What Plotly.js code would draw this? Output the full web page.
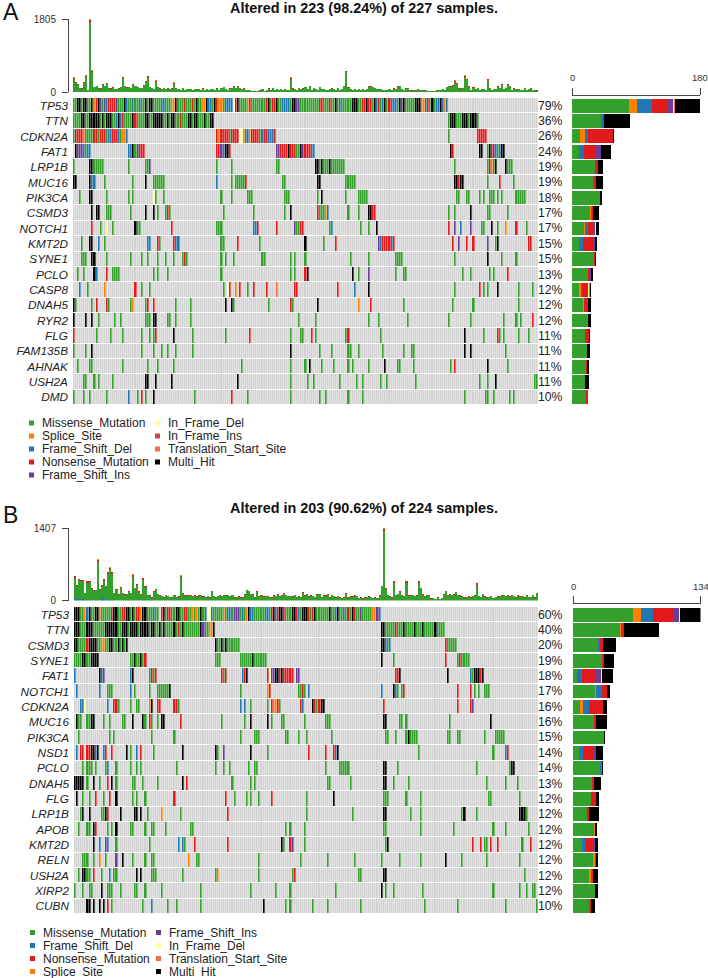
<!DOCTYPE html>
<html><head><meta charset="utf-8">
<script src="https://cdn.plot.ly/plotly-3.0.1.min.js"></script>
<style>html,body{margin:0;padding:0;background:#fff}#c{width:708px;height:978px}</style>
</head><body><div id="c"></div>
<script>
// ---------- shared ----------
const typeCodes = ['M','S','D','N','I','Y','Q','T','H'];
const typeNames = {M:'Missense_Mutation',S:'Splice_Site',D:'Frame_Shift_Del',N:'Nonsense_Mutation',I:'Frame_Shift_Ins',Y:'In_Frame_Del',Q:'In_Frame_Ins',T:'Translation_Start_Site',H:'Multi_Hit'};
const typeColors = {M:'#33A02C',S:'#FF7F00',D:'#1F78B4',N:'#E31A1C',I:'#6A3D9A',Y:'#FFFF99',Q:'#D53E4F',T:'#F46D43',H:'#000000'};

// ---------- panel A ----------
const aTitle = 'Altered in 223 (98.24%) of 227 samples.';
const aGenes = ['TP53','TTN','CDKN2A','FAT1','LRP1B','MUC16','PIK3CA','CSMD3','NOTCH1','KMT2D','SYNE1','PCLO','CASP8','DNAH5','RYR2','FLG','FAM135B','AHNAK','USH2A','DMD'];
const aPct = [79,36,26,24,19,19,18,17,17,15,15,13,12,12,12,11,11,11,11,10];
const aTotals = [360,250,200,110,90,250,410,60,1805,540,130,160,110,90,190,150,230,110,90,120,80,70,90,130,380,150,120,130,100,190,150,130,110,100,180,270,400,130,100,70,290,120,90,80,110,70,90,80,90,240,110,80,60,100,60,80,70,70,60,80,70,70,60,90,60,70,50,80,70,60,90,60,110,130,80,60,90,100,150,100,160,110,70,90,60,50,60,30,20,30,30,40,70,30,60,90,40,100,60,70,60,70,60,80,60,60,360,90,70,60,100,70,90,130,70,160,60,110,70,60,130,80,70,60,50,70,90,70,60,110,60,70,160,530,120,70,60,70,50,70,60,70,60,70,140,150,130,110,70,80,70,60,50,60,70,60,90,70,150,160,80,50,90,100,50,40,60,40,70,50,50,40,50,20,20,20,30,40,60,50,70,50,130,160,150,170,290,230,110,90,110,410,330,150,60,120,80,100,60,70,80,60,320,110,60,70,80,150,100,210,70,100,190,160,60,90,70,80,60,50,110,60,70,90,60,50,40];
const aNonsense = [25,15,15,10,8,15,30,5,60,35,10,12,10,8,14,12,18,10,8,10,8,7,8,12,30,12,10,12,10,16,12,10,10,8,15,20,32,10,8,7,25,10,8,8,10,7,8,8,8,22,10,8,6,10,6,8,7,7,6,8,7,7,6,8,6,7,5,8,7,6,8,6,10,12,8,6,8,10,14,10,14,10,7,8,6,5,6,4,3,4,4,4,7,4,6,8,4,10,6,7,6,7,6,8,6,6,30,8,7,6,10,7,8,12,7,14,6,10,7,6,12,8,7,6,5,7,8,7,6,10,6,7,14,30,10,7,6,7,5,7,6,7,6,7,12,14,12,10,7,8,7,6,5,6,7,6,8,7,14,14,8,5,8,10,5,4,6,4,7,5,5,4,5,3,3,3,4,4,6,5,7,5,12,14,14,15,25,20,10,8,10,30,28,14,6,10,8,10,6,7,8,6,28,10,6,7,8,14,10,18,7,10,16,14,6,8,7,8,6,5,10,6,7,8,6,5,4];
const aSpliceTips = [[0,10],[6,10],[8,30],[9,15],[24,12],[36,15],[40,10],[49,8],[106,12],[133,15],[186,8],[191,12],[192,10],[202,8],[209,8]];
const aShiftBase = [[0,15],[1,12],[2,10],[5,10],[6,12],[36,30],[37,25],[40,15]];
const aBarMissense = [80,41,11,10,33,30,39,26,17,10,31,22,10,15,22,18,21,19,18,19];
const aBarSplice   = [11,0,7,0,0,0,0,1,1,0,0,0,2,2,0,0,0,0,0,0];
const aBarDel      = [21.5,2,4,7,0,1,0,1,4,5,0,1,2,0,0,0,0,0,0,0];
const aBarNonsense = [22.5,2,35,16,3,3,0,2,8,15,1,3,9,5,1,6,0,2,0,3];
const aBarIns      = [7.5,0,0,8,0,0,0,0,3,2,0,1,0,0,0,0,0,0,0,0];
const aBarInDel    = [1.5,0,0,0,0,0,1,0,1,0,0,0,1,0,0,0,0,0,0,0];
const aBarStart    = [1.5,0,1,0,0,0,0,0,0,0,0,0,1,0,0,0,0,0,0,0];
const aBarMulti    = [34,36,1,14,7,9,2,8,4,3,2,3,2,5,4,2,4,3,6,1];
const aRows = {
 TP53:'M0-1 H2-3 M4 H5-6 M7-8 H9 S10 N11 H12 I13 M14 I15 D16 N17-20 I21 M22-24 H25 D26 M27-28 D29 M30-31 D32 M33-34 H35 M36 H37-38 M39-42 D43-44 M45-47 S48-49 H50 M51-53 N54 M55-57 N58 M59 H60 M61-62 S63-64 H65 D66-67 M68 H69 N70 S71-72 M73 D74-77 Y78 N79 H80 M81-84 S85 N86 M87-93 N94 H95 M96 N97-98 H99 M100-101 D102-105 M106 H107-108 I109-110 M111-119 N120-121 M122-124 N125 M126-127 H128 M129 D130 M131-135 H136-138 M139-140 N141-142 H143 N144-145 M146 H147 D148 N149 M150 D151 H152 M153 N154 D155-157 M158 H159 I160 H161 M162-166 H167-169 S170-171 D172 N173 M174 H175 M176 D177-178 H179 D180 S181 D182',
 TTN:'M0-3 H4-5 M6-7 H8-12 M13 H14 M15 H16-18 M19-20 D21 H22 D23 N24 M25-28 H29 N30 M31-34 H35-36 M37-38 H39-43 M44-45 H46 M47 H48-49 M50-51 N52 M53-55 H56-57 M58 H59-60 M61-63 H64 M65-66 H67-68 M183 H184-186 M187-189 H190-192 M193 H194-196 M197',
 CDKN2A:'M0 N1-4 S5 M6-9 N10-11 M12 N13-15 M16 D17-18 N19-21 D22 M23 S24-25 D26 N70 S71 N72-75 M76 N77-80 Y81-82 S83 D84-85 S86 N87-90 M91 D92 N93-94 D95-97 N98 M183 N197-201',
 FAT1:'H1 I2-4 D5 M6 D7-8 D27-28 H29 M30 I31 N32-34 N70-71 I72 D73 H74-75 N76 I99-100 N101-104 H105 N106-108 M109-110 H111 I112 N113-115 D116-117 H184 N185 H198-199 M202 H203 N204 I205 D206 M207 D208 H209-210',
 LRP1B:'M0 H8-9 M10-14 M27 M35-36 I37 M70 M77 M99-100 H118-119 M120 H121 M122-125 H125 M126-132 M186 M202 N203 S204 M205 H206 H211 M212-214',
 MUC16:'H0-1 H8 D9-10 M15 M29 H35 M39-44 D70 M77 M79-83 N84 M102-103 H119-120 M133-137 H186-187 N188 H189-190 M202 N208 M215',
 PIK3CA:'M3 H8-9 M16 M27 M29 Y39 M40 M44 M72 M77 M85-87 M103-105 M119 H121 M133 M139-143 M187-188 M192-193 M198 M200 M203-205 M207 M209 M216-220',
 CSMD3:'H9 H11-12 M16-18 M28 H35 H39 M41 M45 N46 M47 M73 M88 M103 H106 N119 M120-122 S123 D124 M134 M139 H144-145 N146-147 M183 M186 H194 M202-203 M212',
 NOTCH1:'N9 M13 Y16 M19 H30 M31-32 N48 M70-72 D88-89 N90 N99 I108 M109-110 N111-112 M125 D126 M140 M144 H148 N183 I186 D189 I194 M199-200 H204 M207 S211 N216 M221',
 KMT2D:'M4 H8-9 D12 M15 D36-37 N41 M42 N49 D50-51 M72-73 N80 M91 H113 M122 N128 I149 D150 N151-154 D155 N156 N185 I188 N192 N195 I202 M206 H207 N222-223',
 SYNE1:'M4-6 H9-10 M16 M28 M33 M36 M41 M45 M49 M53-54 N54 M55 M72 M74 M78 M92-93 M106 M108 M113 M135 M144 M157-160 M186 H202 M209 M216',
 PCLO:'M2 M5 H10 D11 N16 M19-22 M39 M41 M46 M72 M106 M108 N113 H114 H136 M139 I144 M157 M161-162 M190 M194 M203 M205 N212',
 CASP8:'D3 M7 S15 N30 M33 M37 M73 Y75 N76 S79 N81 M85 N88 N94 T99 N108-109 N129 D137 H144 M186 N198 M200 M202 H207 M217 M224',
 DNAH5:'H0 M1 M9 N11 N16 M17 M28 S29 M35 N36 N39 M50 M57 H74 H77 M78 M95 N106 M107 H119 S139 N145 M161 M185 M195 M217',
 RYR2:'H0 H6 H9 M12 M20 M23 M35-37 H39-40 M46-47 M50 M57 M110 M118 M144 M149 M163 M183 M194 M210 M216 M218 N224',
 FLG:'N0 M11 M18 M24 M33 M37 M39 N40 H49 M58 M74 N86 M106 M111 M112 N116 M118 M133 N134 M150 H191 M200 N207 M208 M210 M217 M222',
 FAM135B:'M0 M6 H9 M33 M39 M43 M46 M50 M58 H106 M120 M126 M134-135 M139 M151 M161 M165-166 H191 H194 M211',
 AHNAK:'M2 M8-9 M24 M36 M41 M49 M82 M106 M113 H115 M121 M127 M134 M136 M144 H152 M158-159 M166 M184 N186 H202 M212',
 USH2A:'M5-6 M10 M12 M19 H35-36 H40 H48 H80 M106 M114 M117 M130 M138 M141 M150 M153 M167 M198 M202 H206 M225-226',
 DMD:'M0 M5 M8 M16 D27 M31 N33 M35 H39 M59 N77 M85 M106 M120 M123 M134 M141 M191 M201-202 M205 M213 M215'
};

// ---------- panel B ----------
const bTitle = 'Altered in 203 (90.62%) of 224 samples.';
const bGenes = ['TP53','TTN','CSMD3','SYNE1','FAT1','NOTCH1','CDKN2A','MUC16','PIK3CA','NSD1','PCLO','DNAH5','FLG','LRP1B','APOB','KMT2D','RELN','USH2A','XIRP2','CUBN'];
const bPct = [60,40,20,19,18,17,16,16,15,14,14,13,12,12,12,12,12,12,12,10];
const bTotals = [475,300,410,400,390,150,370,380,240,200,210,807,220,300,410,290,550,650,550,150,220,120,260,150,120,130,180,150,510,250,330,180,120,430,280,110,100,60,180,230,130,100,90,60,110,90,70,60,110,70,80,490,150,100,100,100,110,90,100,80,100,110,80,70,90,60,190,90,70,90,100,90,110,100,110,90,110,60,70,80,60,60,120,210,190,130,120,70,180,90,100,80,90,80,70,60,100,90,120,90,100,140,110,90,90,80,110,70,80,70,160,100,130,80,100,90,70,120,130,70,100,100,130,60,110,90,60,90,60,50,60,140,60,80,80,100,90,50,60,40,60,70,80,70,50,60,50,100,290,1407,240,110,80,60,380,110,130,180,100,90,380,100,100,110,90,100,380,250,120,90,100,110,40,50,30,60,30,50,120,190,100,130,110,120,170,110,100,80,60,70,80,60,90,100,340,90,70,130,80,60,70,90,50,70,80,90,100,110,90,100,80,110,90,60,100,80,90,60,110,70,70,110,60,150];
const bNonsense = [30,15,20,20,20,10,22,25,14,12,12,40,14,16,22,16,30,35,28,10,14,8,16,10,8,8,12,10,35,14,20,12,8,28,18,8,7,5,12,14,10,7,7,5,8,7,6,5,8,6,6,30,10,8,8,8,8,7,8,6,8,8,6,6,7,5,14,7,6,7,8,7,8,8,8,7,8,5,6,6,5,5,9,15,14,10,9,6,14,7,8,6,7,6,6,5,8,7,9,7,8,10,8,7,7,6,8,6,6,6,12,8,10,6,8,7,6,9,10,6,8,8,10,5,8,7,5,7,5,4,5,10,5,6,6,8,7,4,5,3,5,6,6,6,4,5,4,8,18,45,16,8,6,5,25,8,10,14,8,7,25,8,8,8,7,8,25,16,9,7,8,8,3,4,3,5,3,4,9,14,8,10,8,9,12,8,8,6,5,6,6,5,7,8,22,7,6,10,6,5,6,7,4,6,6,7,8,8,7,8,6,8,7,5,8,6,7,5,8,6,6,8,5,12];
const bSpliceTips = [[0,8],[11,15],[17,10],[28,10],[51,12],[149,18],[154,8],[160,8],[166,8],[194,8]];
const bShiftBase = [[0,25],[1,25],[2,22],[3,20],[4,20],[5,15],[6,15],[7,15],[13,60],[14,20],[16,15],[17,15],[28,12],[33,12]];
const bBarMissense = [63,49,26,30,4,23,7,22,33,6,28,20,19,15,22,9,21,17,23,17];
const bBarDel      = [13,0,2,0,5,6,7,0,0,5,2,0,0,0,0,4,0,1,0,1];
const bBarNonsense = [22,4,3,3,15,6,14,2,0,11,0,2,5,2,0,8,1,1,0,1];
const bBarSplice   = [8,1,0,0,0,1,3,0,0,0,0,0,0,0,1,0,2,2,0,0];
const bBarIns      = [5,0,0,0,5,0,0,0,0,2,0,0,0,0,0,2,0,0,0,0];
const bBarInDel    = [1,0,0,0,1,0,1,0,0,0,0,0,0,0,0,0,0,0,0,0];
const bBarStart    = [0,0,0,0,0,0,0,0,0,0,0,0,0,0,0,0,0,0,0,0];
const bBarMulti    = [22,36,14,10,12,3,4,12,1,8,2,7,3,10,2,3,2,5,3,4];
const bRows = {
 TP53:'H0-2 M3-4 S5 D6 H7 M8-9 H10-11 S12 M13-17 N18 H19-20 M21-22 N23-24 H25-26 M27 H28 M29 N30-31 S32 H33-34 M35-37 D38 M39-40 N42 H43 M44 N45-46 M47-48 H49-50 M51-52 N53-54 M55-56 S57 M58 S59 M60 H61 M62 D63 Y64-65 D66 M67-71 S72 M73 D74-75 M76 I77-79 M80 D81 M82 S83 H84 D85-86 M87-91 D92-93 M94 N95 H96 D97 N98 H99-100 N101 M102-104 H105-106 N107 D108 M109 H110 H111-112 N113 M114 N115 H116 M117-122 H123 M124-125 D126 H127 M128-129 D130 M131 N132 M133 H134 N135 M136-137 I138 M139 M140-143 S144-145 I146 D147',
 TTN:'H0-2 M3-5 H6-8 M9-14 H15-20 M21-22 H23-25 M26 H27-30 M31 H32-35 M36 H37-38 M39-40 H41 M42 H43 M44-47 H48 M49 N50 M51 H52 M53-60 H61 I62 M63-64 S65-66 H67 H148-149 M150-154 N155 M156-158 H159 M160-163 H164 M165-167 H168 M169-173 H174 M175-178',
 CSMD3:'H0-1 M2-5 N6 H7-10 M11-12 S13-14 M15-16 H17-18 M19-20 H21 M22 H23 M24 H25 H68 M69-70 H71 M72 H73 M74-79 H148-149 D150 M151 D152 N179 M180-184',
 SYNE1:'M0-3 H4-5 M6-7 H8-11 M27-28 H29 M30-31 H32 M33 N34 M68-70 M80-85 H86 M87-92 H148 M154 N179 M185 N186 M187-190',
 FAT1:'D0 H12 D13 I14 D27 H28 M36 N37 M38 N39 N71 M72 N73 D81 N82 H83 N93 Y94 I95-96 H97-98 N99 H100 N101-105 I107-108 N155-156 H157 H180 D191 M192 H193-194 H195 N196 H197',
 NOTCH1:'D1 D12 M16-18 D27 M29 M36 M40-45 H46 M80 S93 N94 M108-109 N110 M111 D113 D148 H154 D155 M156 M158 N159 N185 N191 M193 M195 M198-200',
 CDKN2A:'D3-4 Y5 D16 N19-20 M21 M27 M30-31 S36 H37 N40-41 N48-49 M50 D80 D82 M85 M93 N95 S96-97 N98 M99 N109 D110 H115 N116 M117 N118 H119-120 N149 N185 N191 I192',
 MUC16:'H1 M2-3 M6-7 H8-9 M14 M17 M23-24 H28 H33 M34 N36 M37 M40 H42-43 N51 M71 M82 H85 H93 M95 M100-101 M111 M121-123 H149-150 M157-158 M160 M181 H201',
 PIK3CA:'M2 M17 M19 M37 M48 M80 M87-89 M102-103 M108 M112 M124 M150-151 M155 M160 H161 M162-165 M180-181 M185-186 M198 M203-207',
 NSD1:'D1 N3-4 N6-7 H8-9 D10 H11 D14 N15 N18 H25 M27 D30 N32 M38 H52 H68 M69 I72 H85 M93 N113 N121 N125 D126 H127 M166 M202 D208 N209',
 PCLO:'M4 M6-8 M10 M15 D16 M20 M27 M30 M32 M49 M68 M72 M75 M84 M87-88 M121 M128-132 H149-150 M156 M194 M210 H211-212',
 DNAH5:'H0-4 M6 H9 M12 N16 H18 M20 M28-29 M33 M40 H52 N54 M76 M85 M87 M122-123 M133 H149-150 M154 M161 M199 M208 M214',
 FLG:'H1 M4 M7 N10 M14 N17 H20 M28 M30 M34 N48 N73 M77 M83 M85 M89 N95 M112 H125 M149-151 M160 M167 M200-201 M215',
 LRP1B:'M3 H4 H7 M13-14 H15 N16 H22 H29-30 H32 M35 S42 M51 N74 M112 M134 H149-150 M162 M167 M187 H188 M194 H215-216 H217 M218',
 APOB:'M2 M6-7 H9 N10 M16 M18 H20 M27-28 M34 M37-38 M44 M56-57 M102 M104 M111 M149-150 M167 M183 M202 M208 M219',
 KMT2D:'H9 D12 I15 D16 M20 M36 D50 D52 M53 N58 N74 H100 M101 N104 I105 M111 M150 H151 N192 N196 M198-199 N201 N204 M216 N220',
 RELN:'M4-6 M9 S12 M15 I20 H23 M28 M34 M37-38 S55 M59-60 M89 M109 M122 M135 M148 M157 M167 H179 M187 M199 M215',
 USH2A:'M2 H4-5 M6 M7 N9 M13 D17 M19-20 H30 H32 M37-39 M52 M68 S69 M89 M105 N106 M137-138 H149-150 M217',
 XIRP2:'M0 M4 M7-8 H13 M16-18 M22 M29-30 M34 M42 M61 M85 M97 M104 M126 H148 M150 M154 M168 M202 M215 M218 M221-222',
 CUBN:'H6-7 H9 H12 H14 N16 M18 M33 D37 M45 M49 M61 H91 M102 M104 M115 M122 M138 M169 M185 M208 M223'
};

// ---------- helpers ----------
function parseRow(str, n){
  const row = new Array(n).fill(0);
  str.split(' ').forEach(t=>{
    const code = typeCodes.indexOf(t[0])+1;
    const [a,b] = t.slice(1).split('-').map(Number);
    for(let i=a;i<=(b===undefined?a:b);i++) if(i<n) row[i]=code;
  });
  return row;
}
const W=708,H=978;
const px = v=>v/W, py = v=>1-v/H;
const nCodes = typeCodes.length;
const heatScale = [];
['#D3D3D3'].concat(typeCodes.map(c=>typeColors[c])).forEach((col,k)=>{
  heatScale.push([k/(nCodes+1),col]); heatScale.push([(k+1)/(nCodes+1),col]);
});
const traces=[]; const layout={width:W,height:H,margin:{l:0,r:0,t:0,b:0},paper_bgcolor:'#fff',plot_bgcolor:'#fff',
  barmode:'stack',bargap:0,showlegend:false,font:{family:'"Liberation Sans",Arial,sans-serif',color:'#222'},annotations:[],shapes:[]};
const darkLine='#444';

function panel(idx,cfg){
  const xT='x'+(idx*3+1), yT='y'+(idx*3+1), xH='x'+(idx*3+2), yH='y'+(idx*3+2), xB='x'+(idx*3+3), yB='y'+(idx*3+3);
  const key=a=>a.replace('x','xaxis').replace('y','yaxis');
  const n=cfg.totals.length, idxs=[...Array(n).keys()];
  const xrange=[-0.5,n-0.5];
  const spare=(pairs)=>{const a=new Array(n).fill(0);pairs.forEach(p=>a[p[0]]=p[1]);return a;};
  const blue=spare(cfg.base), orange=spare(cfg.tips);
  const green=cfg.totals.map((t,i)=>Math.max(0,t-cfg.red[i]-blue[i]-orange[i]));
  [[blue,'D'],[green,'M'],[cfg.red,'N'],[orange,'S']].forEach(([v,c])=>{
    traces.push({type:'bar',x:idxs,y:v,width:1,xaxis:xT,yaxis:yT,marker:{color:typeColors[c],line:{width:0}},hoverinfo:'skip'});
  });
  layout[key(xT)]={domain:[px(cfg.mx0),px(cfg.mx1)],range:xrange,visible:false,anchor:yT,fixedrange:true};
  layout[key(yT)]={domain:[py(cfg.topB),py(cfg.topT)],range:[0,cfg.max],tickmode:'array',tickvals:[0,cfg.max],ticktext:['0',String(cfg.max)],
    ticks:'outside',ticklen:6,tickcolor:darkLine,tickwidth:1,showline:true,linecolor:darkLine,linewidth:1,showgrid:false,zeroline:false,
    anchor:'free',position:px(68),tickfont:{size:10,color:'#333'},ticklabelstandoff:4,fixedrange:true};
  // matrix
  const z=cfg.genes.map(g=>parseRow(cfg.rows[g],n));
  traces.push({type:'heatmap',z:z,x:idxs,y:cfg.genes.map((g,i)=>i),xaxis:xH,yaxis:yH,zmin:-0.5,zmax:nCodes+0.5,colorscale:heatScale,showscale:false,xgap:0.35,ygap:1,hoverinfo:'skip'});
  layout[key(xH)]={domain:[px(cfg.mx0),px(cfg.mx1)],range:xrange,visible:false,anchor:yH,fixedrange:true};
  layout[key(yH)]={domain:[py(cfg.mB),py(cfg.mT)],range:[19.5,-0.5],tickmode:'array',tickvals:cfg.genes.map((g,i)=>i),
    ticktext:cfg.genes.map(g=>'<i>'+g+'</i>'),ticks:'',showline:false,showgrid:false,zeroline:false,tickfont:{size:11.8,color:'#222'},
    anchor:xH,ticklabelstandoff:4,fixedrange:true};
  // pct labels
  cfg.pct.forEach((p,i)=>layout.annotations.push({text:p+'%',xref:'paper',yref:yH,x:px(cfg.mx1-1),y:i,xanchor:'left',yanchor:'middle',showarrow:false,font:{size:12.2,color:'#222'},borderpad:0}));
  // gene bars
  typeCodes.forEach(c=>{
    traces.push({type:'bar',orientation:'h',y:cfg.genes.map((g,i)=>i),x:cfg.bars[c],width:0.9,xaxis:xB,yaxis:yB,marker:{color:typeColors[c],line:{width:0}},hoverinfo:'skip'});
  });
  layout[key(xB)]={domain:[px(cfg.bx0),px(cfg.bx1)],range:[0,cfg.barMax],side:'top',tickmode:'array',tickvals:[0,cfg.barMax],ticktext:['',''],
    ticks:'outside',ticklen:7,tickcolor:darkLine,tickwidth:1,showline:true,linecolor:darkLine,linewidth:1,showgrid:false,zeroline:false,
    anchor:'free',position:py(cfg.barAxisY),fixedrange:true};
  layout[key(yB)]={domain:[py(cfg.mB),py(cfg.mT)],range:[19.5,-0.5],visible:false,anchor:xB,fixedrange:true};
  [[cfg.bx0,'0'],[cfg.bx1,String(cfg.barMax)]].forEach(([lx,t])=>layout.annotations.push({text:t,xref:'paper',yref:'paper',x:px(lx),y:py(cfg.barAxisY-17),xanchor:'center',yanchor:'middle',showarrow:false,borderpad:0,font:{size:9.5,color:'#333'}}));
  // title and panel tag
  layout.annotations.push({text:'<b>'+cfg.title+'</b>',xref:'paper',yref:'paper',x:px(363.5),y:py(cfg.titleY),xanchor:'center',yanchor:'middle',showarrow:false,borderpad:0,font:{size:14.4,color:'#111'}});
  layout.annotations.push({text:cfg.tag,xref:'paper',yref:'paper',x:px(1),y:py(cfg.tagY),xanchor:'left',yanchor:'middle',showarrow:false,font:{size:23,color:'#111'}});
  // legend
  cfg.legend.forEach((col,ci)=>col.forEach((c,ri)=>{
    const lx=cfg.legX[ci], ly=cfg.legY[ri];
    layout.shapes.push({type:'rect',xref:'paper',yref:'paper',x0:px(lx),x1:px(lx+5),y0:py(ly-2.5),y1:py(ly+2.5),fillcolor:typeColors[c],line:{width:0}});
    layout.annotations.push({text:typeNames[c],xref:'paper',yref:'paper',x:px(lx+10.5),y:py(ly),xanchor:'left',yanchor:'middle',showarrow:false,font:{size:12,color:'#222'}});
  }));
}
panel(0,{title:aTitle,tag:'A',titleY:8,tagY:12,genes:aGenes,pct:aPct,totals:aTotals,red:aNonsense,tips:aSpliceTips,base:aShiftBase,rows:aRows,max:1805,barMax:180,
  topT:19,topB:92,mT:98,mB:405,mx0:73,mx1:538,bx0:572,bx1:700,barAxisY:95,
  bars:{M:aBarMissense,S:aBarSplice,D:aBarDel,N:aBarNonsense,I:aBarIns,Y:aBarInDel,Q:aBarInDel.map(()=>0),T:aBarStart,H:aBarMulti},
  legend:[['M','S','D','N','I'],['Y','Q','T','H']],legX:[29,155],legY:[423,436,449,462,475]});
panel(1,{title:bTitle,tag:'B',titleY:508,tagY:515,genes:bGenes,pct:bPct,totals:bTotals,red:bNonsense,tips:bSpliceTips,base:bShiftBase,rows:bRows,max:1407,barMax:134,
  topT:528,topB:600.5,mT:607,mB:914,mx0:74,mx1:538,bx0:573,bx1:700.5,barAxisY:603,
  bars:{M:bBarMissense,S:bBarSplice,D:bBarDel,N:bBarNonsense,I:bBarIns,Y:bBarInDel,Q:bBarStart,T:bBarStart,H:bBarMulti},
  legend:[['M','D','N','S'],['I','Y','T','H']],legX:[30,156],legY:[932.5,945.5,958.5,971.5]});
Plotly.newPlot('c',traces,layout,{staticPlot:true,displayModeBar:false});
</script></body></html>
